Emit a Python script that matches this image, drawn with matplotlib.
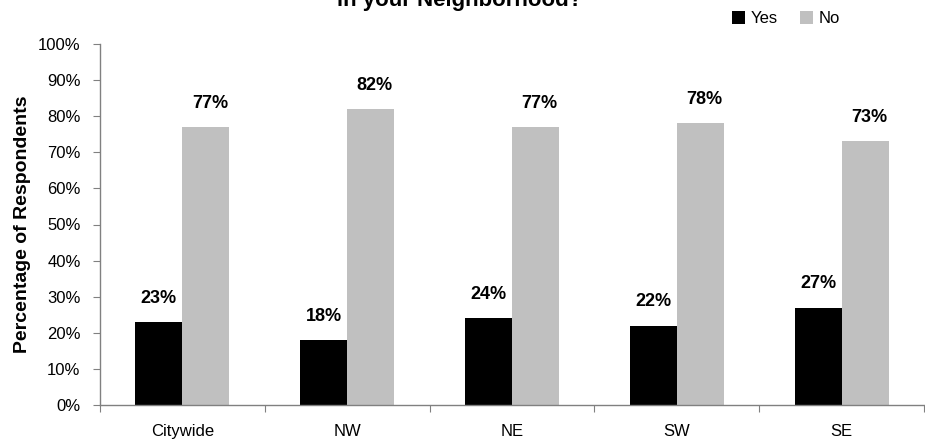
import matplotlib
matplotlib.use("Agg")
import matplotlib.pyplot as plt
import numpy as np

plt.rcParams['font.family'] = ['Liberation Sans', 'DejaVu Sans']

categories = ["Citywide", "NW", "NE", "SW", "SE"]
yes_pct = [23, 18, 24, 22, 27]
no_pct = [77, 82, 77, 78, 73]
y_ticks = [0, 10, 20, 30, 40, 50, 60, 70, 80, 90, 100]

W, H = 925, 445
fig = plt.figure(figsize=(W / 100, H / 100), dpi=100)
ax = fig.add_axes([100 / W, 1 - 405 / H, 824 / W, 361 / H])

x = np.arange(len(categories)) + 0.5
bw = 0.285
ax.bar(x - bw / 2, yes_pct, width=bw, color="#000000", label="Yes")
ax.bar(x + bw / 2, no_pct, width=bw, color="#c0c0c0", label="No")

for xi, v in zip(x - bw / 2, yes_pct):
    ax.annotate(f"{v}%", (xi, v), xytext=(0, 11), textcoords="offset points",
                ha="center", va="bottom", fontsize=13, fontweight="bold")
for xi, v in zip(x + bw / 2, no_pct):
    ax.annotate(f"{v}%", (xi, v), xytext=(3, 11), textcoords="offset points",
                ha="center", va="bottom", fontsize=13, fontweight="bold")

ax.set_xlim(0, len(categories))
ax.set_ylim(0, 100)
ax.set_yticks(y_ticks)
ax.set_yticklabels([f"{t}%" for t in y_ticks], fontsize=12)
ax.set_xticks(np.arange(len(categories) + 1))
ax.set_xticklabels([])
ax.set_xticks(x, minor=True)
ax.set_xticklabels(categories, minor=True, fontsize=12)
ax.tick_params(axis="x", which="minor", length=0, pad=14)
ax.tick_params(axis="x", which="major", length=5, direction="out", color="#808080")
ax.tick_params(axis="y", length=5, direction="out", color="#808080", pad=9)

for s in ("top", "right"):
    ax.spines[s].set_visible(False)
for s in ("left", "bottom"):
    ax.spines[s].set_color("#808080")
    ax.spines[s].set_linewidth(1.0)

ax.set_ylabel("Percentage of Respondents", fontsize=14, fontweight="bold", labelpad=5)

fig.text(460 / W, 1 - 6 / H, "in your Neighborhood?", ha="center", va="baseline",
         fontsize=16, fontweight="bold")

leg = fig.legend(loc="center left", bbox_to_anchor=(732 / W, 1 - 18.5 / H), ncol=2,
                 frameon=False, fontsize=12, handlelength=0.78, handleheight=0.78,
                 handletextpad=0.35, columnspacing=1.3, borderaxespad=0, borderpad=0)

fig.savefig("out.png", dpi=100)
